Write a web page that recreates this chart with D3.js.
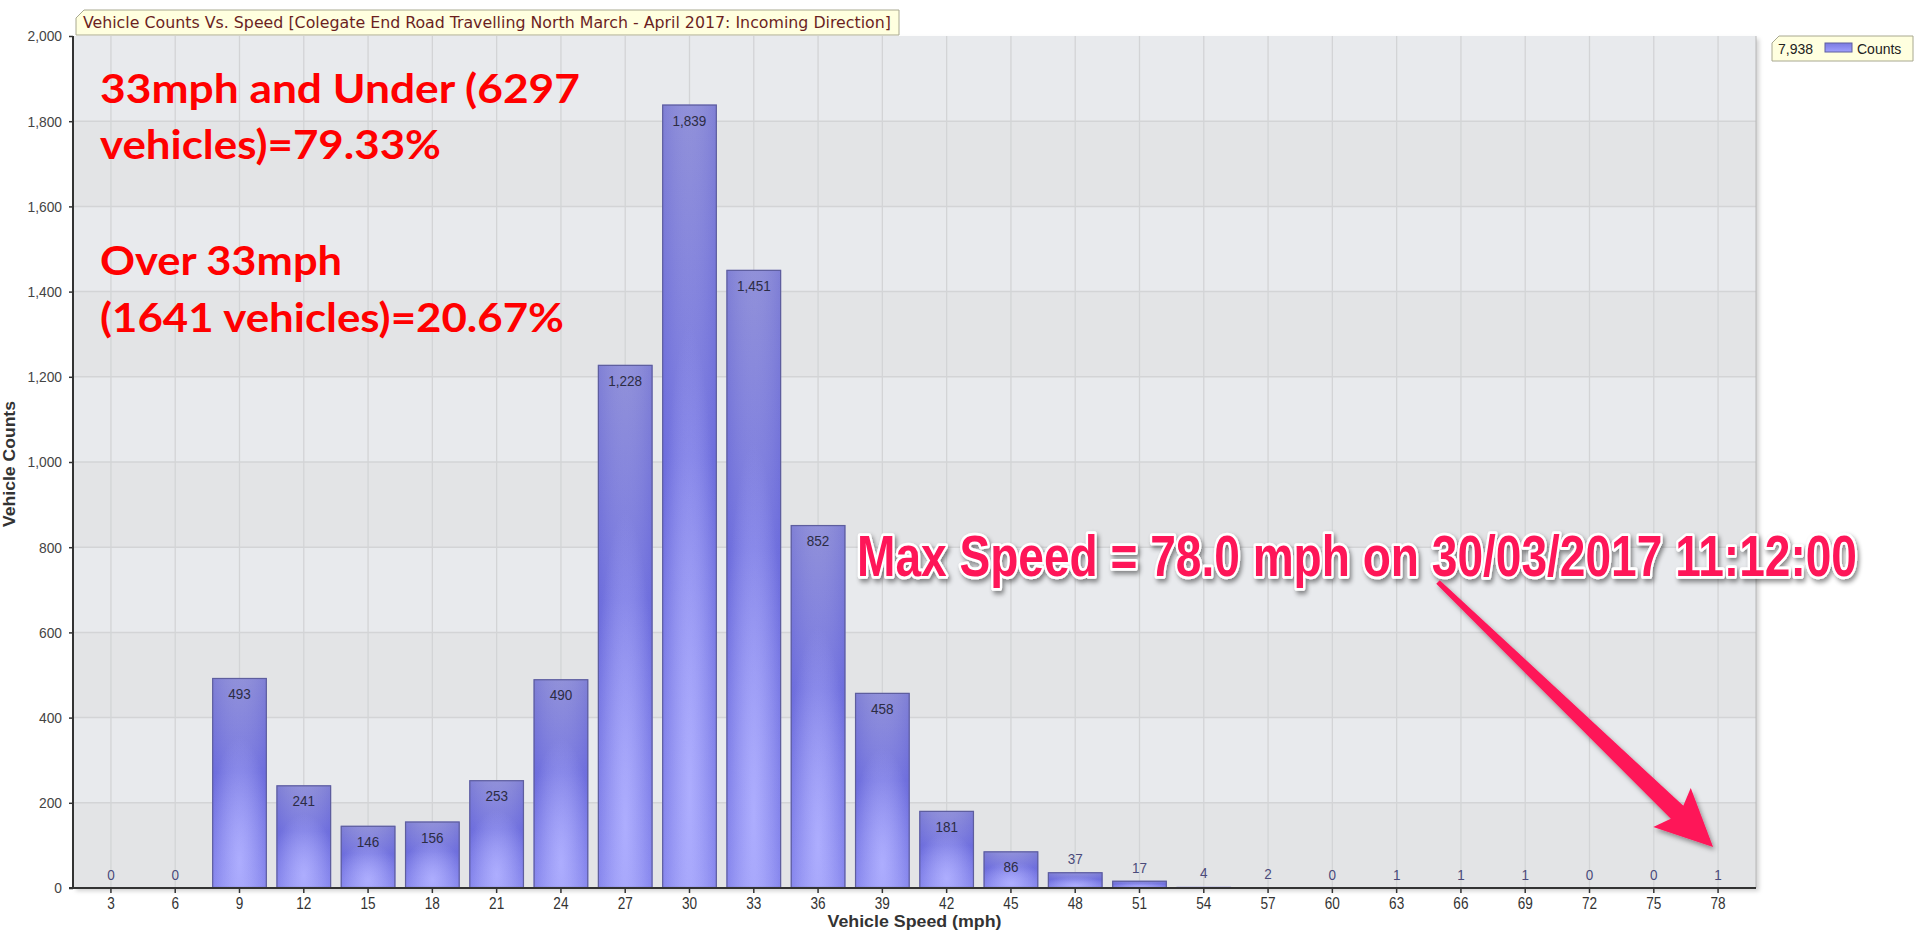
<!DOCTYPE html>
<html>
<head>
<meta charset="utf-8">
<script src="https://cdn.jsdelivr.net/npm/d3@7"></script>
<style>
  html, body { margin: 0; padding: 0; background: #ffffff; }
  svg { display: block; }
</style>
</head>
<body>
<svg id="chart" width="1917" height="933"></svg>
<script>
// ---------------- DATA ----------------
const speeds = [3, 6, 9, 12, 15, 18, 21, 24, 27, 30, 33, 36, 39, 42, 45, 48, 51, 54, 57, 60, 63, 66, 69, 72, 75, 78];
const counts = [0, 0, 493, 241, 146, 156, 253, 490, 1228, 1839, 1451, 852, 458, 181, 86, 37, 17, 4, 2, 0, 1, 1, 1, 0, 0, 1];
const yTickValues = [0, 200, 400, 600, 800, 1000, 1200, 1400, 1600, 1800, 2000];
const titleText = "Vehicle Counts Vs. Speed [Colegate End Road Travelling North March - April 2017: Incoming Direction]";
const legendTotal = "7,938";
const legendLabel = "Counts";
const xTitle = "Vehicle Speed (mph)";
const yTitle = "Vehicle Counts";
const noteLines = ["33mph and Under (6297", "vehicles)=79.33%", "Over 33mph", "(1641 vehicles)=20.67%"];
const maxSpeedNote = "Max Speed = 78.0 mph on 30/03/2017 11:12:00";
const maxSpeedValue = 78;

// ---------------- LAYOUT ----------------
const svg = d3.select("#chart");
const plot = { left: 73, top: 36, right: 1756, bottom: 888 };

const x = d3.scaleBand()
  .domain(speeds)
  .range([plot.left, plot.right])
  .paddingInner(0.15)
  .paddingOuter(0.165);

const y = d3.scaleLinear().domain([0, 2000]).range([plot.bottom, plot.top]);

const defs = svg.append("defs");

// bar gradients
const lg = defs.append("linearGradient").attr("id", "barLin").attr("x1", 0).attr("y1", 0).attr("x2", 0).attr("y2", 1);
lg.append("stop").attr("offset", "0%").attr("stop-color", "#8787d6");
lg.append("stop").attr("offset", "45%").attr("stop-color", "#7070df");
lg.append("stop").attr("offset", "100%").attr("stop-color", "#8c8cf2");

const rg = defs.append("radialGradient").attr("id", "barRad")
  .attr("cx", "50%").attr("cy", "88%").attr("r", "60%").attr("fx", "50%").attr("fy", "88%");
rg.append("stop").attr("offset", "0%").attr("stop-color", "#a8a8ff").attr("stop-opacity", 0.95);
rg.append("stop").attr("offset", "100%").attr("stop-color", "#a8a8ff").attr("stop-opacity", 0);

const sideG = defs.append("linearGradient").attr("id", "barSide").attr("x1", 0).attr("y1", 0).attr("x2", 1).attr("y2", 0);
sideG.append("stop").attr("offset", "0%").attr("stop-color", "#5a5ad0").attr("stop-opacity", 0.18);
sideG.append("stop").attr("offset", "50%").attr("stop-color", "#ffffff").attr("stop-opacity", 0.08);
sideG.append("stop").attr("offset", "100%").attr("stop-color", "#5a5ad0").attr("stop-opacity", 0.18);

// legend swatch gradient
const swG = defs.append("linearGradient").attr("id", "swatch").attr("x1", 0).attr("y1", 0).attr("x2", 0).attr("y2", 1);
swG.append("stop").attr("offset", "0%").attr("stop-color", "#7a7ae0");
swG.append("stop").attr("offset", "100%").attr("stop-color", "#a0a0ff");

// shadows
const sh = defs.append("filter").attr("id", "txtShadow").attr("x", "-5%").attr("y", "-30%").attr("width", "110%").attr("height", "160%");
sh.append("feDropShadow").attr("dx", 2).attr("dy", 2.5).attr("stdDeviation", 2).attr("flood-color", "#000").attr("flood-opacity", 0.45);
const sh2 = defs.append("filter").attr("id", "arrShadow").attr("x", "-10%").attr("y", "-10%").attr("width", "130%").attr("height", "130%");
sh2.append("feDropShadow").attr("dx", 2).attr("dy", 3).attr("stdDeviation", 2.5).attr("flood-color", "#000").attr("flood-opacity", 0.4);
const sh3 = defs.append("filter").attr("id", "plotShadow").attr("x", "-2%").attr("y", "-2%").attr("width", "104%").attr("height", "104%");
sh3.append("feDropShadow").attr("dx", 3).attr("dy", 3).attr("stdDeviation", 2).attr("flood-color", "#000").attr("flood-opacity", 0.18);

// ---------------- PLOT BACKGROUND ----------------
svg.append("rect")
  .attr("x", plot.left).attr("y", plot.top)
  .attr("width", plot.right - plot.left).attr("height", plot.bottom - plot.top)
  .attr("fill", "#e8eaed").attr("filter", "url(#plotShadow)");

// alternating bands
const bandPairs = d3.pairs(yTickValues);
svg.append("g").selectAll("rect").data(bandPairs).join("rect")
  .attr("x", plot.left).attr("width", plot.right - plot.left)
  .attr("y", d => y(d[1])).attr("height", d => y(d[0]) - y(d[1]))
  .attr("fill", (d, i) => (i % 2 === 0) ? "#e3e4e6" : "#e8eaed");

// gridlines
const grid = svg.append("g");
grid.selectAll("line.h").data(yTickValues.filter(v => v > 0 && v < 2000)).join("line")
  .attr("x1", plot.left).attr("x2", plot.right)
  .attr("y1", d => y(d)).attr("y2", d => y(d))
  .attr("stroke", "#d3d4d6").attr("stroke-width", 1.5);
grid.selectAll("line.v").data(speeds).join("line")
  .attr("x1", d => x(d) + x.bandwidth() / 2).attr("x2", d => x(d) + x.bandwidth() / 2)
  .attr("y1", plot.top).attr("y2", plot.bottom)
  .attr("stroke", "#d3d4d6").attr("stroke-width", 1.3);

// right border
svg.append("line").attr("x1", plot.right).attr("x2", plot.right).attr("y1", plot.top).attr("y2", plot.bottom)
  .attr("stroke", "#b8b8b8").attr("stroke-width", 1);

// ---------------- BARS ----------------
const bars = svg.append("g");
const barData = speeds.map((s, i) => ({ s, v: counts[i] })).filter(d => d.v > 0);
const bh = d => y(0) - y(d.v);
bars.selectAll("rect.b").data(barData).join("rect")
  .attr("x", d => x(d.s)).attr("width", x.bandwidth())
  .attr("y", d => y(d.v)).attr("height", bh)
  .attr("fill", "url(#barLin)")
  .attr("opacity", d => bh(d) < 3 ? 0.35 : 1);
bars.selectAll("rect.r").data(barData.filter(d => bh(d) >= 3)).join("rect")
  .attr("x", d => x(d.s)).attr("width", x.bandwidth())
  .attr("y", d => y(d.v)).attr("height", bh)
  .attr("fill", "url(#barRad)");
bars.selectAll("rect.s").data(barData.filter(d => bh(d) >= 3)).join("rect")
  .attr("x", d => x(d.s) + 0.5).attr("width", x.bandwidth() - 1)
  .attr("y", d => y(d.v) + 0.5).attr("height", d => Math.max(0, bh(d) - 1))
  .attr("fill", "url(#barSide)")
  .attr("stroke", "#5e5e9e").attr("stroke-width", 1.2);

// value labels
const fmt = d3.format(",");
const valLabels = svg.append("g").selectAll("text").data(speeds.map((s, i) => ({ s, v: counts[i] }))).join("text")
  .attr("x", d => x(d.s) + x.bandwidth() / 2)
  .attr("y", d => bh(d) > 25 ? y(d.v) + 21 : y(d.v) - 8)
  .attr("text-anchor", "middle")
  .attr("font-family", "Liberation Sans, Arial, sans-serif")
  .attr("font-size", 15)
  .attr("fill", d => bh(d) > 25 ? "#2c2c44" : "#4a4a7a")
  .text(d => fmt(d.v));
valLabels.each(function() {
  const w = this.getComputedTextLength();
  d3.select(this).attr("textLength", w * 0.9).attr("lengthAdjust", "spacingAndGlyphs");
});

// ---------------- AXES ----------------
const yAxis = d3.axisLeft(y).tickValues(yTickValues).tickFormat(d3.format(",")).tickSize(4).tickPadding(7);
const gy = svg.append("g").attr("transform", `translate(${plot.left},0)`).call(yAxis);
gy.select(".domain").attr("stroke", "#333").attr("stroke-width", 2).attr("d", `M0,${plot.top}V${plot.bottom + 1}`);
gy.selectAll(".tick line").attr("stroke", "#333").attr("stroke-width", 1.5);
gy.selectAll(".tick text").attr("font-family", "Liberation Sans, Arial, sans-serif").attr("font-size", 15).attr("fill", "#444")
  .each(function() {
    const w = this.getComputedTextLength();
    d3.select(this).attr("textLength", w * 0.92).attr("lengthAdjust", "spacingAndGlyphs");
  });

const xAxis = d3.axisBottom(x).tickSize(5).tickPadding(5);
const gx = svg.append("g").attr("transform", `translate(0,${plot.bottom})`).call(xAxis);
gx.select(".domain").attr("stroke", "#333").attr("stroke-width", 2.2).attr("d", `M${plot.left - 4},0H${plot.right}`);
gx.selectAll(".tick line").attr("stroke", "#333").attr("stroke-width", 1.5);
gx.selectAll(".tick text").attr("font-family", "Liberation Sans, Arial, sans-serif").attr("font-size", 16).attr("fill", "#333")
  .each(function() {
    const w = this.getComputedTextLength();
    d3.select(this).attr("textLength", w * 0.85).attr("lengthAdjust", "spacingAndGlyphs");
  });

// axis titles
svg.append("text")
  .attr("x", (plot.left + plot.right) / 2).attr("y", 927)
  .attr("text-anchor", "middle")
  .attr("font-family", "Liberation Sans, Arial, sans-serif").attr("font-size", 17).attr("font-weight", "bold")
  .attr("fill", "#333")
  .attr("textLength", 174).attr("lengthAdjust", "spacingAndGlyphs")
  .text(xTitle);

svg.append("text")
  .attr("transform", `translate(15, ${(plot.top + plot.bottom) / 2 + 2}) rotate(-90)`)
  .attr("text-anchor", "middle")
  .attr("font-family", "Liberation Sans, Arial, sans-serif").attr("font-size", 16).attr("font-weight", "bold")
  .attr("fill", "#333")
  .attr("textLength", 126).attr("lengthAdjust", "spacingAndGlyphs")
  .text(yTitle);

// ---------------- TITLE BOX ----------------
const tb = { x0: 76, y0: 10, x1: 899, y1: 35, bev: 8 };
svg.append("path")
  .attr("d", `M${tb.x0},${tb.y1} L${tb.x0},${tb.y0 + tb.bev} L${tb.x0 + tb.bev},${tb.y0} L${tb.x1},${tb.y0} L${tb.x1},${tb.y1} Z`)
  .attr("fill", "#ffffdf").attr("stroke", "#a8a890").attr("stroke-width", 1);
svg.append("text")
  .attr("x", 83).attr("y", 28)
  .attr("font-family", "DejaVu Sans Condensed, Liberation Sans, sans-serif")
  .attr("font-size", 15).attr("fill", "#6b1f1f")
  .attr("textLength", 808).attr("lengthAdjust", "spacingAndGlyphs")
  .text(titleText);

// ---------------- LEGEND ----------------
const lb = { x0: 1772, y0: 36, x1: 1913, y1: 61, bev: 7 };
svg.append("path")
  .attr("d", `M${lb.x0},${lb.y1} L${lb.x0},${lb.y0 + lb.bev} L${lb.x0 + lb.bev},${lb.y0} L${lb.x1},${lb.y0} L${lb.x1},${lb.y1} Z`)
  .attr("fill", "#ffffdf").attr("stroke", "#a8a890").attr("stroke-width", 1);
svg.append("text").attr("x", 1778).attr("y", 54)
  .attr("font-family", "Liberation Sans, Arial, sans-serif").attr("font-size", 14).attr("fill", "#222")
  .text(legendTotal);
svg.append("rect").attr("x", 1825).attr("y", 43).attr("width", 27).attr("height", 9)
  .attr("fill", "url(#swatch)").attr("stroke", "#5e5e9e").attr("stroke-width", 1);
svg.append("text").attr("x", 1857).attr("y", 54)
  .attr("font-family", "Liberation Sans, Arial, sans-serif").attr("font-size", 14).attr("fill", "#222")
  .text(legendLabel);

// ---------------- RED NOTES ----------------
const noteBaselines = [103, 159, 275, 332];
const noteWidths = [480, 341, 242, 464];
svg.append("g").selectAll("text").data(noteLines).join("text")
  .attr("x", 100).attr("y", (d, i) => noteBaselines[i])
  .attr("font-family", "Lato, Open Sans, sans-serif").attr("font-weight", "bold").attr("font-size", 41)
  .attr("fill", "#ff0000")
  .attr("textLength", (d, i) => noteWidths[i]).attr("lengthAdjust", "spacingAndGlyphs")
  .text(d => d);

// ---------------- MAX SPEED NOTE + ARROW ----------------
// narrow, tall lettering: natural font at 46px, stretched vertically
svg.append("text")
  .attr("transform", "translate(857,576) scale(1,1.26)")
  .attr("x", 0).attr("y", 0)
  .attr("font-family", "Liberation Sans, Arial, sans-serif").attr("font-weight", "bold").attr("font-size", 46)
  .attr("fill", "#fe1459").attr("stroke", "#ffffff").attr("stroke-width", 4.5).attr("stroke-linejoin", "round")
  .attr("paint-order", "stroke")
  .attr("textLength", 1000).attr("lengthAdjust", "spacingAndGlyphs")
  .attr("filter", "url(#txtShadow)")
  .text(maxSpeedNote);

// arrow pointing to the max-speed bar label
const tipX = x(maxSpeedValue) + x.bandwidth() / 2 - 5;
const tipY = 847;
const tail = [1438, 582];
const dx = tipX - tail[0], dy = tipY - tail[1];
const L = Math.hypot(dx, dy);
const ux = dx / L, uy = dy / L;
const px = -uy, py = ux;
const headLen = 50, headHalf = 27, shaftHalfEnd = 9, shaftHalfStart = 2.5;
const bx = tipX - ux * headLen, by = tipY - uy * headLen;
const arrowPts = [
  [tail[0] + px * shaftHalfStart, tail[1] + py * shaftHalfStart],
  [bx + px * shaftHalfEnd, by + py * shaftHalfEnd],
  [bx - ux * 7 + px * headHalf, by - uy * 7 + py * headHalf],
  [tipX, tipY],
  [bx - ux * 7 - px * headHalf, by - uy * 7 - py * headHalf],
  [bx - px * shaftHalfEnd, by - py * shaftHalfEnd],
  [tail[0] - px * shaftHalfStart, tail[1] - py * shaftHalfStart]
];
svg.append("path")
  .attr("d", d3.line()(arrowPts) + "Z")
  .attr("fill", "#fe1459")
  .attr("filter", "url(#arrShadow)");
</script>
</body>
</html>
